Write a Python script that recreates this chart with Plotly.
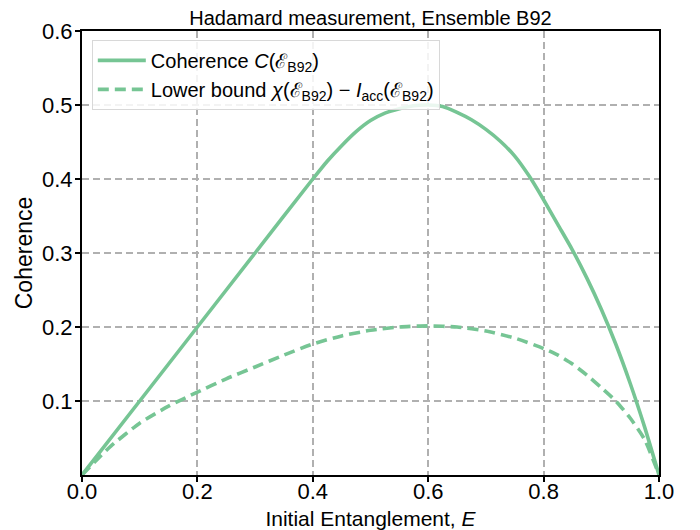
import plotly.graph_objects as go

# Data
E_solid = [0.0, 0.1, 0.2, 0.3, 0.4, 0.425, 0.45, 0.475, 0.5, 0.525, 0.55, 0.575,
           0.6, 0.625, 0.65, 0.675, 0.7, 0.725, 0.75, 0.775, 0.8, 0.825, 0.85, 0.875, 0.9, 0.925,
           0.95, 0.975, 1.0]
coherence = [0.0, 0.1, 0.2, 0.3, 0.4, 0.424, 0.445, 0.464, 0.479, 0.489, 0.495, 0.499,
             0.5, 0.498, 0.49, 0.48, 0.467, 0.451, 0.431, 0.404, 0.372, 0.338, 0.304, 0.266, 0.224, 0.177,
             0.124, 0.065, 0.0]

E_dash = [0.0, 0.025, 0.05, 0.1, 0.15, 0.2, 0.25, 0.3, 0.35, 0.4, 0.45, 0.5, 0.55, 0.6, 0.65,
          0.7, 0.75, 0.8, 0.825, 0.85, 0.875, 0.9, 0.925, 0.95, 0.975, 1.0]
lower_bound = [0.0, 0.02, 0.039, 0.07, 0.093, 0.112, 0.13, 0.146, 0.162, 0.177, 0.188, 0.1955, 0.2, 0.2015, 0.2,
               0.1946, 0.185, 0.171, 0.162, 0.15, 0.135, 0.118, 0.1, 0.077, 0.048, 0.0]

x_ticks = [0.0, 0.2, 0.4, 0.6, 0.8, 1.0]
y_ticks = [0.1, 0.2, 0.3, 0.4, 0.5, 0.6]

color = "#76c594"
font_family = "Liberation Sans, Arial, Helvetica, sans-serif"

fig = go.Figure()
fig.add_trace(go.Scatter(
    x=E_solid, y=coherence, mode="lines",
    line=dict(color=color, width=3.6, shape="spline", smoothing=0.6),
    name="Coherence <i>C</i>(ℰ<sub>B92</sub>)"))
fig.add_trace(go.Scatter(
    x=E_dash, y=lower_bound, mode="lines",
    line=dict(color=color, width=3.6, dash="11px,6px", shape="spline", smoothing=0.6),
    name="Lower bound <i>χ</i>(ℰ<sub>B92</sub>) − <i>I</i><sub>acc</sub>(ℰ<sub>B92</sub>)"))

axis_common = dict(
    showline=True, linecolor="black", linewidth=2, mirror=True,
    ticks="outside", ticklen=5, tickwidth=1.5, tickcolor="black",
    showgrid=True, gridcolor="#b0b0b0", gridwidth=1.5, griddash="7px,4px",
    zeroline=False, automargin=False,
    tickfont=dict(size=22, color="black", family=font_family),
)

# The page body adds an 8px offset, so the figure is 8px smaller and margins are compensated.
fig.update_layout(
    width=692, height=522,
    paper_bgcolor="white", plot_bgcolor="white",
    margin=dict(l=74, r=41, t=23, b=55),
    font=dict(family=font_family, color="black", size=20),
    title=dict(text="Hadamard measurement, Ensemble B92", x=0.5, xref="paper", xanchor="center",
               y=0.98, yref="container", yanchor="middle", font=dict(size=20, color="black")),
    xaxis=dict(range=[0, 1], tickvals=x_ticks, tickformat=".1f", ticklabelstandoff=-9,
               title=dict(text="Initial Entanglement, <i>E</i>", font=dict(size=21), standoff=10),
               **axis_common),
    yaxis=dict(range=[0, 0.6], tickvals=y_ticks, tickformat=".1f", ticklabelstandoff=-2,
               title=dict(text="Coherence", font=dict(size=23), standoff=3),
               **axis_common),
    legend=dict(x=0.017, y=0.98, xanchor="left", yanchor="top", itemwidth=48,
                bgcolor="rgba(255,255,255,0.85)", bordercolor="#d8d8d8", borderwidth=1,
                font=dict(size=20, color="black")),
    showlegend=True,
)

fig.write_html("out.html")
